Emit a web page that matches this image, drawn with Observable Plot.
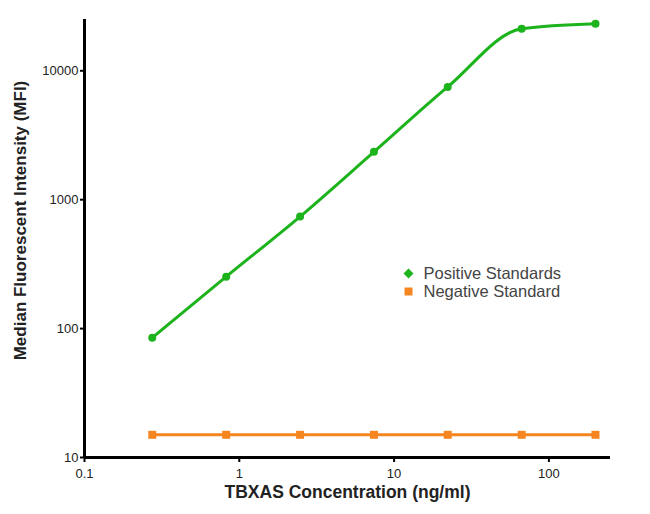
<!DOCTYPE html>
<html>
<head>
<meta charset="utf-8">
<script src="https://cdn.jsdelivr.net/npm/d3@7"></script>
<script src="https://cdn.jsdelivr.net/npm/@observablehq/plot@0.6"></script>
<style>
  html, body { margin: 0; padding: 0; background: #fff; }
  #chart { width: 650px; height: 514px; }
</style>
</head>
<body>
<div id="chart"></div>
<script>
// Data
const concentration = [0.274, 0.823, 2.47, 7.41, 22.2, 66.7, 200];
const positiveStandards = [85, 253, 740, 2350, 7500, 21200, 23200];
const negativeStandard = [15, 15, 15, 15, 15, 15, 15];

const xTicks = [0.1, 1, 10, 100];
const xTickLabels = ["0.1", "1", "10", "100"];
const yTicks = [10, 100, 1000, 10000];
const yTickLabels = ["10", "100", "1000", "10000"];

const seriesNames = ["Positive Standards", "Negative Standard"];
const xTitle = "TBXAS Concentration (ng/ml)";
const yTitle = "Median Fluorescent Intensity (MFI)";

const green = "#1cb31c";
const orange = "#f5851f";
const font = "Liberation Sans, Arial, Helvetica, sans-serif";

const pos = concentration.map((c, i) => ({x: c, y: positiveStandards[i]}));
const neg = concentration.map((c, i) => ({x: c, y: negativeStandard[i]}));

const chart = Plot.plot({
  width: 650,
  height: 514,
  marginLeft: 84,
  marginRight: 40,
  marginTop: 19,
  marginBottom: 57,
  style: {fontFamily: font, background: "#fff"},
  x: {type: "log", domain: [0.1, 250]},
  y: {type: "log", domain: [10, 25000]},
  marks: [
    Plot.axisX({
      ticks: xTicks,
      tickFormat: d => xTickLabels[xTicks.indexOf(d)],
      tickSize: 5, tickPadding: 6, fontSize: 13, color: "#222",
      stroke: "#000", strokeWidth: 2, label: null
    }),
    Plot.axisY({
      ticks: yTicks,
      tickFormat: d => yTickLabels[yTicks.indexOf(d)],
      tickSize: 4, tickPadding: 2, fontSize: 13, color: "#222",
      stroke: "#000", strokeWidth: 2, label: null
    }),
    Plot.ruleY([10], {stroke: "#000", strokeWidth: 3}),
    Plot.ruleX([0.1], {stroke: "#000", strokeWidth: 3}),
    Plot.line(neg, {x: "x", y: "y", stroke: orange, strokeWidth: 3}),
    Plot.dot(neg, {x: "x", y: "y", symbol: "square", fill: orange, r: 4.5}),
    Plot.line(pos, {x: "x", y: "y", stroke: green, strokeWidth: 3, curve: "monotone-x"}),
    Plot.dot(pos, {x: "x", y: "y", symbol: "circle", fill: green, r: 4}),
    // Legend
    Plot.dot([seriesNames[0]], {frameAnchor: "top-left", dx: 324, dy: 254, symbol: "diamond2", fill: green, r: 4.5}),
    Plot.dot([seriesNames[1]], {frameAnchor: "top-left", dx: 324, dy: 272, symbol: "square", fill: orange, r: 4.5}),
    Plot.text([seriesNames[0]], {frameAnchor: "top-left", dx: 339, dy: 254, text: d => d, textAnchor: "start", lineAnchor: "middle", fontSize: 16.5, fill: "#444", fontFamily: font}),
    Plot.text([seriesNames[1]], {frameAnchor: "top-left", dx: 339, dy: 272, text: d => d, textAnchor: "start", lineAnchor: "middle", fontSize: 16.5, fill: "#444", fontFamily: font}),
    // Axis titles
    Plot.text([xTitle], {frameAnchor: "bottom", dy: 35, text: d => d, fontWeight: "bold", fontSize: 17.5, fill: "#222", textAnchor: "middle", lineAnchor: "middle", fontFamily: font}),
    Plot.text([yTitle], {frameAnchor: "left", dx: -64, dy: -18, rotate: -90, text: d => d, fontWeight: "bold", fontSize: 17, fill: "#222", textAnchor: "middle", lineAnchor: "middle", fontFamily: font})
  ]
});
document.getElementById("chart").appendChild(chart);
</script>
</body>
</html>
